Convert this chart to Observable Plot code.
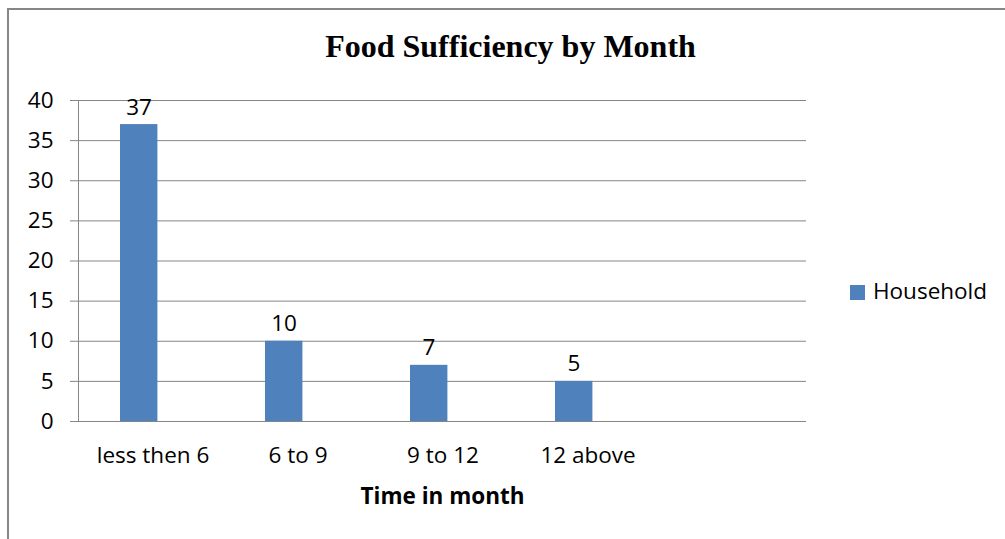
<!DOCTYPE html>
<html>
<head>
<meta charset="utf-8">
<script src="https://cdn.jsdelivr.net/npm/d3@7"></script>
<script src="https://cdn.jsdelivr.net/npm/@observablehq/plot@0.6"></script>
<style>
  html, body { margin: 0; padding: 0; background: #fff; width: 1005px; height: 539px; overflow: hidden; }
  #wrap { position: relative; width: 1005px; height: 539px; }
  #border { position: absolute; left: 7px; top: 8px; width: 1100px; height: 700px; border: 2px solid #878787; box-sizing: border-box; }
  #chart { position: absolute; left: 0; top: 0; }
  #title { position: absolute; left: 0; width: 1021px; top: 30px; text-align: center; font-family: "Liberation Serif", serif; font-weight: bold; font-size: 32px; line-height: 32px; color: #000; }
  #legend { position: absolute; left: 850px; top: 280px; font-family: "Open Sans", sans-serif; font-size: 22.5px; line-height: 22.5px; color: #000; white-space: nowrap; }
  #legend .sw { position: absolute; left: 0; top: 5px; width: 15px; height: 15px; background: #4F81BD; }
  #legend .lb { position: absolute; left: 23px; top: 0; }
</style>
</head>
<body>
<div id="wrap">
  <div id="border"></div>
  <div id="chart"></div>
  <div id="title">Food Sufficiency by Month</div>
  <div id="legend"><span class="sw"></span><span class="lb">Household</span></div>
</div>
<script>
const categories = ["less then 6", "6 to 9", "9 to 12", "12 above"];
const households = [37, 10, 7, 5];
const yTicks = [0, 5, 10, 15, 20, 25, 30, 35, 40];
const xTitle = "Time in month";

const data = categories.map((c, i) => ({category: c, value: households[i]}));

const gray = "#868686";
const fs = 22.5;
const chart = Plot.plot({
  width: 1005,
  height: 539,
  marginLeft: 78,
  marginRight: 199,
  marginTop: 100,
  marginBottom: 118,
  style: {fontFamily: "Open Sans, sans-serif", fontSize: fs + "px", color: "#000", background: "transparent", overflow: "visible"},
  x: {domain: [...categories, " "], padding: 0, axis: null},
  y: {domain: [0, 40], axis: null},
  marks: [
    Plot.gridY(yTicks, {stroke: gray, strokeOpacity: 1, strokeWidth: 1}),
    Plot.axisY(yTicks, {tickSize: 8, tickPadding: 17, stroke: gray, fill: "#000", fontSize: fs, label: null}),
    Plot.frame({anchor: "left", stroke: gray, strokeOpacity: 1}),
    Plot.barY(data, {x: "category", y: "value", fill: "#4F81BD", insetLeft: 40, insetRight: 67.6}),
    Plot.text(data, {x: "category", y: "value", text: d => String(d.value), dx: -14, dy: -10, lineAnchor: "bottom", fontSize: fs, fill: "#000"}),
    Plot.axisX(categories, {tickSize: 0, tickPadding: 26, fontSize: fs, fill: "#000", label: null}),
    Plot.text([xTitle], {frameAnchor: "bottom", dy: 82, lineAnchor: "bottom", fontWeight: "bold", fontSize: fs, fill: "#000"})
  ]
});
document.getElementById("chart").appendChild(chart);
</script>
</body>
</html>
